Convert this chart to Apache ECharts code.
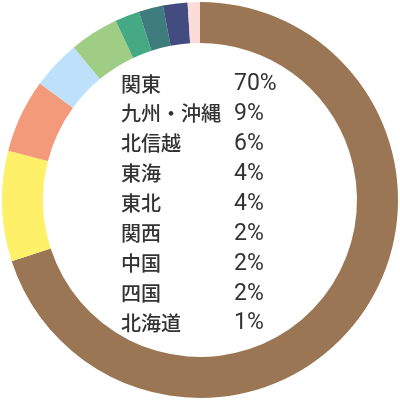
<!DOCTYPE html>
<html>
<head>
<meta charset="utf-8">
<script src="https://cdn.jsdelivr.net/npm/echarts@6/dist/echarts.min.js"></script>
<style>html,body{margin:0;padding:0;background:#fff;}#c{width:400px;height:400px;}</style>
</head>
<body>
<div id="c"></div>
<script>
var categories = ['関東', '九州・沖縄', '北信越', '東海', '東北', '関西', '中国', '四国', '北海道'];
var values = [70, 9, 6, 4, 4, 2, 2, 2, 1];
var colors = ['#9b7654', '#fff06a', '#f39a7a', '#bde1fb', '#9ecd83', '#45aa84', '#3e7c7d', '#434c80', '#fcdcd8'];

var chart = echarts.init(document.getElementById('c'));
var texts = [];
categories.forEach(function (name, i) {
  var y = 83 + i * 29.9;
  texts.push({
    type: 'text', left: 121, top: y - 9,
    style: { text: name, fontFamily: 'Noto Sans CJK JP', fontWeight: 500, fontSize: 20, fill: '#333' }
  });
  texts.push({
    type: 'text', left: 234, top: y - 10,
    style: { text: values[i] + '%', fontFamily: 'Roboto', fontWeight: 400, fontSize: 23, fill: '#333' }
  });
});
chart.setOption({
  animation: false,
  color: colors,
  series: [{
    type: 'pie',
    center: ['50%', '50%'],
    radius: ['78.5%', '99%'],
    startAngle: 90,
    clockwise: true,
    label: { show: false },
    labelLine: { show: false },
    silent: true,
    itemStyle: { borderWidth: 0 },
    data: categories.map(function (n, i) { return { name: n, value: values[i] }; })
  }],
  graphic: texts
});
</script>
</body>
</html>
